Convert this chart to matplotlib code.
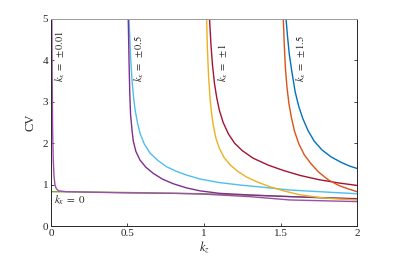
import numpy as np
import matplotlib
matplotlib.use("Agg")
import matplotlib.pyplot as plt

plt.rcParams["font.family"] = ["Liberation Serif", "DejaVu Serif"]
plt.rcParams["mathtext.fontset"] = "stix"

# kx = 0
kz_g = [0.0, 0.5, 1.0, 1.5, 2.0]
cv_g = [0.83, 0.81, 0.78, 0.72, 0.65]

# kx = +-0.01
kz_p1 = [0.006, 0.008, 0.011, 0.015, 0.02, 0.026, 0.035, 0.05, 0.1, 0.5, 0.8, 1.0, 1.3, 1.56, 2.0]
cv_p1 = [5.0, 3.6, 2.3, 1.6, 1.2, 1.0, 0.9, 0.85, 0.83, 0.80, 0.79, 0.77, 0.71, 0.63, 0.59]

# kx = +-0.5
kz_c = [0.51, 0.52, 0.53, 0.54, 0.55, 0.565, 0.582, 0.61, 0.647, 0.7, 0.756, 0.82, 0.887,
        0.974, 1.1, 1.235, 1.377, 1.56, 1.8, 2.0]
cv_c = [5.0, 4.1, 3.5, 3.1, 2.8, 2.5, 2.24, 1.98, 1.76, 1.58, 1.43, 1.32, 1.23,
        1.135, 1.05, 0.99, 0.94, 0.87, 0.82, 0.78]
kz_p2 = [0.505, 0.51, 0.515, 0.52, 0.53, 0.538, 0.555, 0.582, 0.62, 0.669, 0.73, 0.8, 0.887,
         0.974, 1.1, 1.3, 1.56, 2.0]
cv_p2 = [5.0, 4.0, 3.2, 2.7, 2.3, 2.05, 1.8, 1.59, 1.42, 1.27, 1.13, 1.02, 0.92,
         0.85, 0.79, 0.75, 0.71, 0.66]

# kx = +-1
kz_y = [1.017, 1.022, 1.03, 1.04, 1.05, 1.062, 1.078, 1.1, 1.13, 1.17, 1.22, 1.28, 1.35,
        1.43, 1.52, 1.62, 1.75, 1.87, 2.0]
cv_y = [5.0, 4.3, 3.6, 3.05, 2.7, 2.4, 2.12, 1.88, 1.66, 1.48, 1.32, 1.18, 1.06,
        0.95, 0.85, 0.76, 0.69, 0.655, 0.63]
kz_r = [1.036, 1.045, 1.055, 1.068, 1.083, 1.1, 1.125, 1.16, 1.2, 1.25, 1.32, 1.42, 1.52,
        1.63, 1.75, 1.88, 2.0]
cv_r = [5.0, 4.4, 3.9, 3.45, 3.1, 2.8, 2.5, 2.22, 2.0, 1.82, 1.64, 1.47, 1.34,
        1.22, 1.12, 1.04, 0.98]

# kx = +-1.5
kz_o = [1.518, 1.524, 1.532, 1.542, 1.555, 1.572, 1.592, 1.62, 1.655, 1.7, 1.75, 1.81,
        1.88, 1.94, 2.0]
cv_o = [5.0, 4.4, 3.8, 3.35, 2.95, 2.6, 2.28, 1.98, 1.72, 1.5, 1.3, 1.12,
        0.98, 0.9, 0.83]
kz_b = [1.536, 1.545, 1.557, 1.573, 1.595, 1.618, 1.645, 1.68, 1.72, 1.77, 1.83, 1.9,
        1.95, 2.0]
cv_b = [5.0, 4.6, 4.15, 3.75, 3.25, 2.9, 2.6, 2.3, 2.05, 1.84, 1.67, 1.53,
        1.45, 1.39]

labels = [r"$k_x\;=\;\pm0.01$", r"$k_x\;=\;\pm0.5$", r"$k_x\;=\;\pm1$", r"$k_x\;=\;\pm1.5$"]
label_x = [0.059, 0.58, 1.124, 1.634]

fig = plt.figure(figsize=(3.95, 2.56), dpi=100)
ax = fig.add_axes([0.129, 0.117, 0.775, 0.809])

lw = 1.0
ax.plot(kz_g, cv_g, color="#77AC30", lw=lw)
ax.plot(kz_p1, cv_p1, color="#9B4FA8", lw=lw)
ax.plot(kz_c, cv_c, color="#4DBEEE", lw=lw)
ax.plot(kz_p2, cv_p2, color="#7E2F8E", lw=lw)
ax.plot(kz_y, cv_y, color="#EDB120", lw=lw)
ax.plot(kz_r, cv_r, color="#A2142F", lw=lw)
ax.plot(kz_o, cv_o, color="#D95319", lw=lw)
ax.plot(kz_b, cv_b, color="#0072BD", lw=lw)

for t, x in zip(labels, label_x):
    ax.text(x, 3.48, t, rotation=90, ha="center", va="bottom", fontsize=7.5, color="#262626")
ax.text(0.02, 0.63, r"$k_x\;=\;0$", ha="left", va="center", fontsize=8, color="#262626")

ax.set_xlim(0, 2)
ax.set_ylim(0, 5)
ax.set_xticks([0, 0.5, 1, 1.5, 2])
ax.set_xticklabels(["0", "0.5", "1", "1.5", "2"])
ax.set_yticks([0, 1, 2, 3, 4, 5])
ax.set_xlabel(r"$k_z$", fontsize=9, labelpad=1, color="#262626")
ax.set_ylabel("CV", fontsize=9, labelpad=4, color="#262626")
ax.tick_params(direction="in", length=2.5, width=0.6, labelsize=8, colors="#262626",
               right=True, top=False, pad=2)
for s in ax.spines.values():
    s.set_linewidth(0.7)
    s.set_color("#262626")
ax.spines["top"].set_color("#9a9a9a")

fig.savefig("out.png", dpi=100)
